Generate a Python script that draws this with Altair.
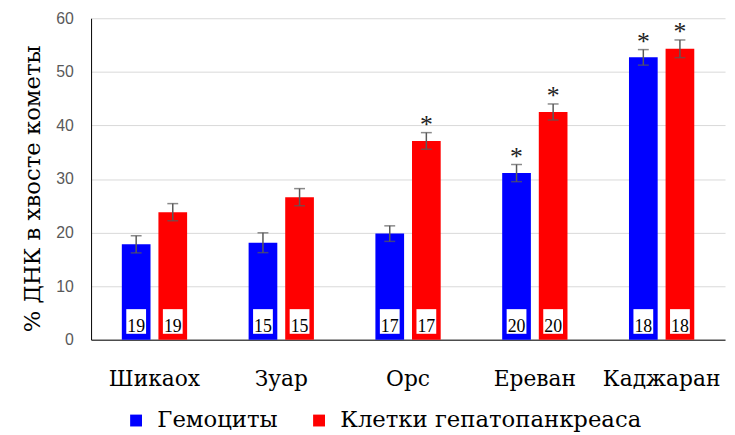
import altair as alt
import pandas as pd

categories = ["Шикаох", "Зуар", "Орс", "Ереван", "Каджаран"]
series = ["Гемоциты", "Клетки гепатопанкреаса"]
hemo = [17.8, 18.1, 19.8, 31.1, 52.7]
hemo_err = [1.6, 1.85, 1.45, 1.6, 1.45]
hep = [23.8, 26.6, 37.1, 42.5, 54.3]
hep_err = [1.6, 1.6, 1.55, 1.5, 1.65]
n_samples = [19, 15, 17, 20, 18]
hemo_sig = [False, False, False, True, True]
hep_sig = [False, False, True, True, True]
colors = ["#0000FF", "#FF0000"]

rows = []
for i, c in enumerate(categories):
    rows.append(dict(cat=c, series=series[0], value=hemo[i], err=hemo_err[i], n=n_samples[i], sig=hemo_sig[i]))
    rows.append(dict(cat=c, series=series[1], value=hep[i], err=hep_err[i], n=n_samples[i], sig=hep_sig[i]))
df = pd.DataFrame(rows)
df["lo"] = df["value"] - df["err"]
df["hi"] = df["value"] + df["err"]

serif = "Liberation Serif"
cyr_serif = "DejaVu Serif"
sans = "Liberation Sans"

base = alt.Chart(df).encode(
    x=alt.X("cat:N", sort=categories,
            scale=alt.Scale(paddingInner=0.485, paddingOuter=0.2425),
            axis=alt.Axis(title=None, labelAngle=0, labelFont=cyr_serif, labelFontSize=22,
                          labelColor="black", ticks=False, domainColor="black",
                          domainWidth=1, labelPadding=29, grid=False, labelLimit=0)),
    xOffset=alt.XOffset("series:N", sort=series,
                        scale=alt.Scale(paddingInner=0.216, paddingOuter=0)),
)

yscale = alt.Scale(domain=[0, 60])

bars = base.mark_bar().encode(
    y=alt.Y("value:Q", scale=yscale,
            axis=alt.Axis(values=[0, 10, 20, 30, 40, 50, 60], title="% ДНК в хвосте кометы",
                          titleFont=cyr_serif, titleFontSize=23, titleFontWeight="normal",
                          titleColor="black", titleX=-59, titleY=172, titleAngle=-90,
                          titleAlign="center", titleBaseline="middle",
                          labelFont=sans, labelFontSize=16, labelColor="#595959",
                          labelPadding=18, ticks=False, domainColor="black",
                          gridColor="#d9d9d9", gridWidth=1)),
    color=alt.Color("series:N", sort=series,
                    scale=alt.Scale(domain=series, range=colors),
                    legend=alt.Legend(title=None, orient="none", direction="horizontal",
                                      legendX=34, legendY=395, symbolType="square",
                                      symbolSize=144, symbolStrokeWidth=0,
                                      labelFont=cyr_serif, labelFontSize=23, labelColor="black",
                                      labelLimit=0, labelOffset=10, columnPadding=30,
                                      padding=0)),
)

err_rule = base.mark_rule(color="#595959", strokeWidth=1.5).encode(
    y=alt.Y("lo:Q", scale=yscale), y2="hi:Q")
cap_lo = base.mark_tick(orient="horizontal", size=11, thickness=1.5, color="#595959").encode(
    y=alt.Y("lo:Q", scale=yscale))
cap_hi = base.mark_tick(orient="horizontal", size=11, thickness=1.5, color="#595959").encode(
    y=alt.Y("hi:Q", scale=yscale))

boxes = base.mark_bar(color="white", size=20).encode(
    y=alt.datum(1.1), y2=alt.datum(5.7))
nums = base.mark_text(font=serif, fontSize=18, baseline="alphabetic", dy=-8, color="black").encode(
    y=alt.datum(0), text="n:Q")

stars = base.transform_filter("datum.sig").mark_text(
    text="*", font=serif, fontSize=26, baseline="alphabetic", dy=0, color="#222222").encode(
    y=alt.Y("hi:Q", scale=yscale))

chart = alt.layer(bars, err_rule, cap_lo, cap_hi, boxes, nums, stars).properties(
    width=641, height=325,
    autosize=alt.AutoSizeParams(type="none"),
    padding={"left": 84, "top": 8, "right": 2, "bottom": 94},
).configure_view(stroke=None)

chart.save("out.html", embed_options={"renderer": "svg", "actions": False})
